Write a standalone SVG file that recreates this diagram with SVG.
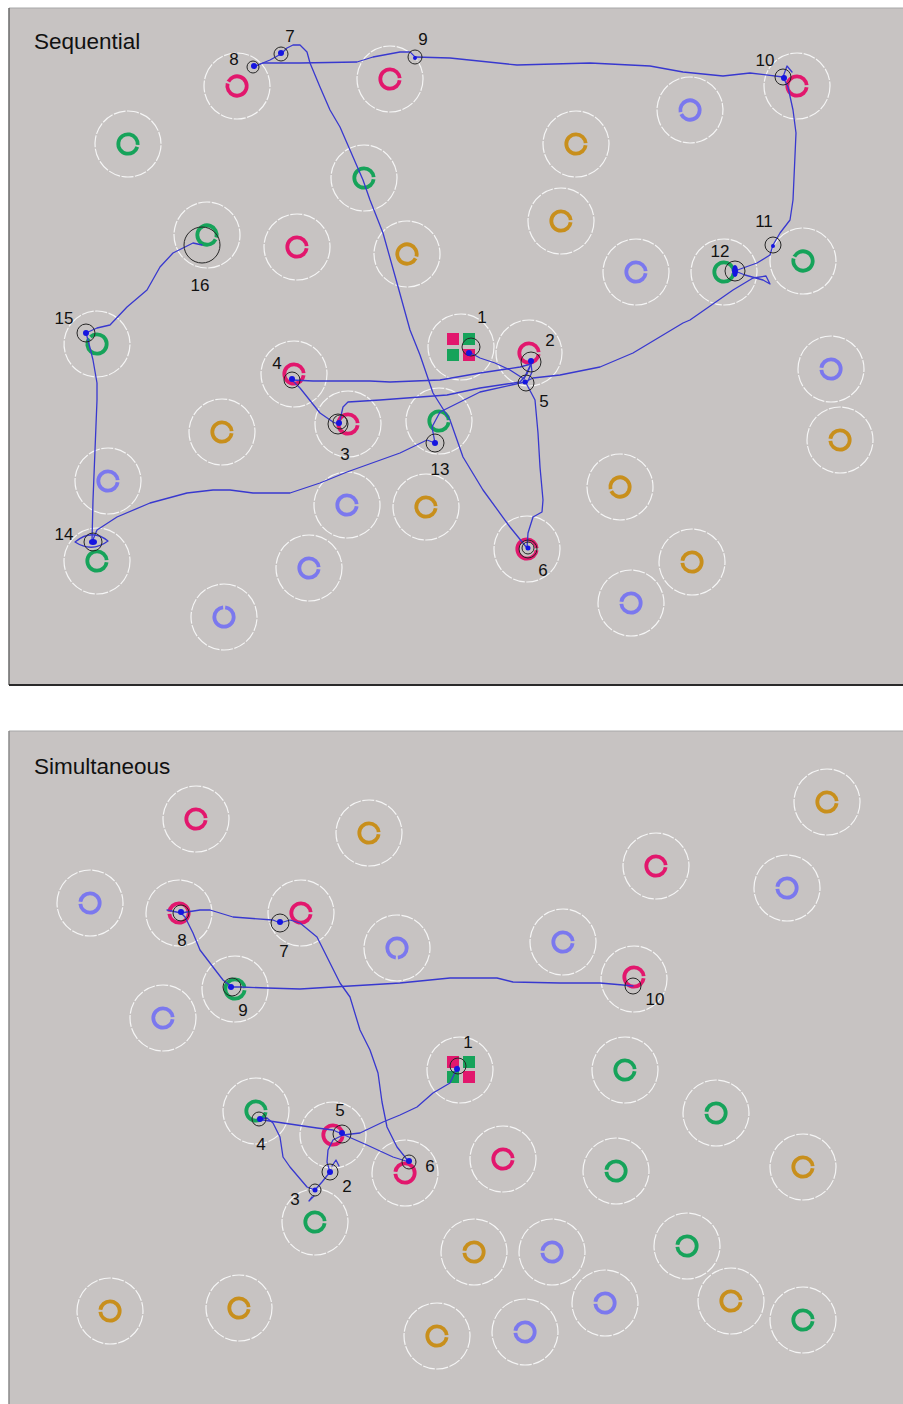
<svg xmlns="http://www.w3.org/2000/svg" width="903" height="1404" viewBox="0 0 903 1404">
<style>
.bg{fill:#c7c3c2}
.w{fill:none;stroke:#f5f5f5;stroke-width:1.2;stroke-dasharray:12 1.5}
.r{fill:none;stroke-width:3.8;stroke-dasharray:58.4 2.5;stroke-dashoffset:59.65}
.pk{stroke:#e2176d}.gr{stroke:#16a35a}.or{stroke:#c88f1c}.bl{stroke:#7b78ee}
.sp{fill:#e2176d}.sg{fill:#16a35a}
.p{fill:none;stroke:#3838cf;stroke-width:1.3;stroke-linejoin:round;stroke-linecap:round}
.k{fill:none;stroke:#262626;stroke-width:1}
.b{fill:#1515e0}
text{font-family:"Liberation Sans",Arial,sans-serif;fill:#111}
.t{font-size:22.5px}
.n{font-size:17px;text-anchor:middle}
</style>
<rect x="0" y="0" width="903" height="1404" fill="#ffffff"/>
<!-- panels -->
<rect class="bg" x="9" y="8" width="900" height="677"/>
<line x1="9" y1="8" x2="903" y2="8" stroke="#a8a8a8" stroke-width="1"/>
<line x1="9" y1="8" x2="9" y2="685" stroke="#6a6a6a" stroke-width="1.5"/>
<line x1="9" y1="685" x2="903" y2="685" stroke="#2a2a2a" stroke-width="2"/>
<rect class="bg" x="9" y="731" width="900" height="680"/>
<line x1="9" y1="731" x2="903" y2="731" stroke="#a8a8a8" stroke-width="1"/>
<line x1="9" y1="731" x2="9" y2="1404" stroke="#8a8a8a" stroke-width="1.5"/>
<text class="t" x="34" y="49">Sequential</text>
<text class="t" x="34" y="774">Simultaneous</text>

<!-- top targets -->
<g id="top-targets">
<g id="tt1" transform="translate(237,86) rotate(200)"><circle class="w" r="33"/><circle class="r pk" r="9.7"/></g>
<g id="tt2" transform="translate(390,79)"><circle class="w" r="33"/><circle class="r pk" r="9.7"/></g>
<g id="tt3" transform="translate(128,144) rotate(10)"><circle class="w" r="33"/><circle class="r gr" r="9.7"/></g>
<g id="tt4" transform="translate(364,178)"><circle class="w" r="33"/><circle class="r gr" r="9.7"/></g>
<g id="tt5" transform="translate(207,235) rotate(20)"><circle class="w" r="33"/><circle class="r gr" r="9.7"/></g>
<g id="tt6" transform="translate(297,247)"><circle class="w" r="33"/><circle class="r pk" r="9.7"/></g>
<g id="tt7" transform="translate(407,254) rotate(20)"><circle class="w" r="33"/><circle class="r or" r="9.7"/></g>
<g id="tt8" transform="translate(97,344) rotate(220)"><circle class="w" r="33"/><circle class="r gr" r="9.7"/></g>
<g id="tt9" transform="translate(797,86)"><circle class="w" r="33"/><circle class="r pk" r="9.7"/></g>
<g id="tt10" transform="translate(690,110) rotate(160)"><circle class="w" r="33"/><circle class="r bl" r="9.7"/></g>
<g id="tt11" transform="translate(576,144)"><circle class="w" r="33"/><circle class="r or" r="9.7"/></g>
<g id="tt12" transform="translate(561,221)"><circle class="w" r="33"/><circle class="r or" r="9.7"/></g>
<g id="tt13" transform="translate(636,272)"><circle class="w" r="33"/><circle class="r bl" r="9.7"/></g>
<g id="tt14" transform="translate(724,272)"><circle class="w" r="33"/><circle class="r gr" r="9.7"/></g>
<g id="tt15" transform="translate(803,261) rotate(200)"><circle class="w" r="33"/><circle class="r gr" r="9.7"/></g>
<g id="tt16" transform="translate(529,353)"><circle class="w" r="33"/><circle class="r pk" r="9.7"/></g>
<g id="tt17" transform="translate(831,369) rotate(180)"><circle class="w" r="33"/><circle class="r bl" r="9.7"/></g>
<g id="tt18" transform="translate(840,440) rotate(180)"><circle class="w" r="33"/><circle class="r or" r="9.7"/></g>
<g id="tt19" transform="translate(620,487) rotate(160)"><circle class="w" r="33"/><circle class="r or" r="9.7"/></g>
<g id="tt20" transform="translate(527,549)"><circle class="w" r="33"/><circle class="r pk" r="9.7"/></g>
<g id="tt21" transform="translate(692,562) rotate(180)"><circle class="w" r="33"/><circle class="r or" r="9.7"/></g>
<g id="tt22" transform="translate(631,603) rotate(180)"><circle class="w" r="33"/><circle class="r bl" r="9.7"/></g>
<g id="tt23" transform="translate(294,374)"><circle class="w" r="33"/><circle class="r pk" r="9.7"/></g>
<g id="tt24" transform="translate(348,424)"><circle class="w" r="33"/><circle class="r pk" r="9.7"/></g>
<g id="tt25" transform="translate(439,421)"><circle class="w" r="33"/><circle class="r gr" r="9.7"/></g>
<g id="tt26" transform="translate(222,432)"><circle class="w" r="33"/><circle class="r or" r="9.7"/></g>
<g id="tt27" transform="translate(108,481)"><circle class="w" r="33"/><circle class="r bl" r="9.7"/></g>
<g id="tt28" transform="translate(347,505)"><circle class="w" r="33"/><circle class="r bl" r="9.7"/></g>
<g id="tt29" transform="translate(426,507)"><circle class="w" r="33"/><circle class="r or" r="9.7"/></g>
<g id="tt30" transform="translate(97,561)"><circle class="w" r="33"/><circle class="r gr" r="9.7"/></g>
<g id="tt31" transform="translate(309,568)"><circle class="w" r="33"/><circle class="r bl" r="9.7"/></g>
<g id="tt32" transform="translate(224,617) rotate(-90)"><circle class="w" r="33"/><circle class="r bl" r="9.7"/></g>
<g id="top-start"><circle class="w" cx="461" cy="347" r="33"/>
<rect class="sp" x="447" y="333" width="12" height="12"/><rect class="sg" x="463" y="333" width="12" height="12"/>
<rect class="sg" x="447" y="349" width="12" height="12"/><rect class="sp" x="463" y="349" width="12" height="12"/></g>
</g>

<!-- bottom targets -->
<g id="bottom-targets">
<g id="bt1" transform="translate(196,819)"><circle class="w" r="33"/><circle class="r pk" r="9.7"/></g>
<g id="bt2" transform="translate(369,833)"><circle class="w" r="33"/><circle class="r or" r="9.7"/></g>
<g id="bt3" transform="translate(90,903) rotate(180)"><circle class="w" r="33"/><circle class="r bl" r="9.7"/></g>
<g id="bt4" transform="translate(179,913) rotate(180)"><circle class="w" r="33"/><circle class="r pk" r="9.7"/></g>
<g id="bt5" transform="translate(301,913)"><circle class="w" r="33"/><circle class="r pk" r="9.7"/></g>
<g id="bt6" transform="translate(397,948) rotate(90)"><circle class="w" r="33"/><circle class="r bl" r="9.7"/></g>
<g id="bt7" transform="translate(235,989)"><circle class="w" r="33"/><circle class="r gr" r="9.7"/></g>
<g id="bt8" transform="translate(163,1018)"><circle class="w" r="33"/><circle class="r bl" r="9.7"/></g>
<g id="bt9" transform="translate(827,802)"><circle class="w" r="33"/><circle class="r or" r="9.7"/></g>
<g id="bt10" transform="translate(656,866)"><circle class="w" r="33"/><circle class="r pk" r="9.7"/></g>
<g id="bt11" transform="translate(787,888) rotate(180)"><circle class="w" r="33"/><circle class="r bl" r="9.7"/></g>
<g id="bt12" transform="translate(563,942)"><circle class="w" r="33"/><circle class="r bl" r="9.7"/></g>
<g id="bt13" transform="translate(634,979)"><circle class="w" r="33"/><circle class="r pk" r="9.7" cy="-2"/></g>
<g id="bt14" transform="translate(256,1111)"><circle class="w" r="33"/><circle class="r gr" r="9.7"/></g>
<g id="bt15" transform="translate(333,1135)"><circle class="w" r="33"/><circle class="r pk" r="9.7"/></g>
<g id="bt16" transform="translate(405,1173) rotate(180)"><circle class="w" r="33"/><circle class="r pk" r="9.7"/></g>
<g id="bt17" transform="translate(315,1222)"><circle class="w" r="33"/><circle class="r gr" r="9.7"/></g>
<g id="bt18" transform="translate(110,1311) rotate(180)"><circle class="w" r="33"/><circle class="r or" r="9.7"/></g>
<g id="bt19" transform="translate(239,1308)"><circle class="w" r="33"/><circle class="r or" r="9.7"/></g>
<g id="bt20" transform="translate(437,1336)"><circle class="w" r="33"/><circle class="r or" r="9.7"/></g>
<g id="bt21" transform="translate(625,1070)"><circle class="w" r="33"/><circle class="r gr" r="9.7"/></g>
<g id="bt22" transform="translate(716,1113) rotate(180)"><circle class="w" r="33"/><circle class="r gr" r="9.7"/></g>
<g id="bt23" transform="translate(503,1159)"><circle class="w" r="33"/><circle class="r pk" r="9.7"/></g>
<g id="bt24" transform="translate(616,1171) rotate(180)"><circle class="w" r="33"/><circle class="r gr" r="9.7"/></g>
<g id="bt25" transform="translate(803,1167)"><circle class="w" r="33"/><circle class="r or" r="9.7"/></g>
<g id="bt26" transform="translate(474,1252) rotate(180)"><circle class="w" r="33"/><circle class="r or" r="9.7"/></g>
<g id="bt27" transform="translate(552,1252) rotate(180)"><circle class="w" r="33"/><circle class="r bl" r="9.7"/></g>
<g id="bt28" transform="translate(687,1246) rotate(180)"><circle class="w" r="33"/><circle class="r gr" r="9.7"/></g>
<g id="bt29" transform="translate(605,1303) rotate(180)"><circle class="w" r="33"/><circle class="r bl" r="9.7"/></g>
<g id="bt30" transform="translate(731,1301)"><circle class="w" r="33"/><circle class="r or" r="9.7"/></g>
<g id="bt31" transform="translate(803,1320)"><circle class="w" r="33"/><circle class="r gr" r="9.7"/></g>
<g id="bt32" transform="translate(525,1332) rotate(180)"><circle class="w" r="33"/><circle class="r bl" r="9.7"/></g>
<g id="bottom-start"><circle class="w" cx="460" cy="1070" r="33"/>
<rect class="sp" x="447" y="1056" width="12" height="12"/><rect class="sg" x="463" y="1056" width="12" height="12"/>
<rect class="sg" x="447" y="1071" width="12" height="12"/><rect class="sp" x="463" y="1071" width="12" height="12"/></g>
</g>

<!-- connectors: trajectories -->
<g id="connectors">
<g id="top-path">
<path class="p" d="M469,352 L480,358 L495,363 L510,370 L524,379 L527,372 L531,364"/>
<path class="p" d="M531,364 L527,374 L520,382 L480,388 L447,395 L380,400 L348,402 L343,407 L340,420"/>
<path class="p" d="M338,424 L333,422 L320,413 L300,388 L292,380"/>
<path class="p" d="M292,380 L313,381 L370,381 L390,382 L440,380 L480,373 L520,367 L531,364 L532,372 L527,383"/>
<path class="p" d="M526,383 L535,400 L538,433 L540,467 L543,500 L542,512 L533,517 L528,533 L527,548"/>
<path class="p" d="M527,548 L510,527 L483,490 L463,457 L450,420 L433,393 L420,355 L410,330 L397,283 L383,233 L370,200 L363,180 L350,150 L340,127 L330,110 L320,87 L310,63 L307,52 L300,45 L293,45 L287,48 L281,54"/>
<path class="p" d="M281,54 L270,60 L253,67"/>
<path class="p" d="M253,67 L263,63 L300,63 L357,62 L373,57 L400,52 L410,52 L415,57"/>
<path class="p" d="M415,57 L450,58 L517,65 L590,63 L650,66 L683,72 L723,76 L750,73 L783,77"/>
<path class="p" d="M783,77 L788,87 L793,110 L796,133 L793,200 L790,220 L780,233 L773,245"/>
<path class="p" d="M773,245 L770,255 L757,263 L743,268 L735,271"/>
<path class="p" d="M735,271 L745,275 L763,280 L770,284 L766,276 L753,278 L733,290 L690,320 L683,323 L633,353 L600,367 L560,375 L533,378 L525,382 L480,392 L440,412 L432,427 L435,443"/>
<path class="p" d="M435,443 L427,440 L400,453 L347,472 L320,483 L290,493 L253,493 L230,490 L213,490 L187,493 L150,503 L117,517 L97,530 L92,542"/>
<path class="p" d="M92,542 L93,500 L95,450 L97,400 L97,383 L93,360 L88,340 L86,333"/>
<path class="p" d="M86,333 L97,328 L110,325 L127,307 L147,290 L160,267 L173,253 L193,243 L202,245"/>
<path class="p" d="M75,542 Q92,528 108,541 Q92,553 75,542Z"/>
<path class="p" d="M783,77 L787,66 L792,72"/>
</g>
<g id="bottom-path">
<path class="p" d="M458,1066 L450,1083 L433,1093 L417,1107 L400,1115 L383,1122 L360,1133 L343,1135 L333,1140 L328,1150 L327,1162 L330,1172"/>
<path class="p" d="M330,1172 L322,1182 L315,1190"/>
<path class="p" d="M315,1190 L307,1187 L290,1167 L283,1157 L280,1137 L273,1123 L267,1118 L259,1119"/>
<path class="p" d="M259,1119 L263,1120 L283,1123 L317,1128 L333,1130 L342,1134"/>
<path class="p" d="M342,1134 L367,1145 L393,1157 L409,1162"/>
<path class="p" d="M409,1162 L397,1147 L387,1127 L382,1102 L378,1073 L370,1050 L360,1030 L350,997 L340,983 L330,963 L317,937 L300,923 L290,920 L280,923"/>
<path class="p" d="M280,923 L273,920 L233,917 L210,910 L200,910 L187,912 L181,913 L167,910"/>
<path class="p" d="M181,913 L185,917 L193,933 L200,950 L213,967 L223,980 L232,987"/>
<path class="p" d="M232,987 L240,987 L267,988 L300,989 L333,987 L367,985 L400,983 L450,978 L497,978 L513,982 L560,983 L600,983 L623,985 L633,986"/>
<path class="p" d="M332,1166 L336,1160 L339,1166"/>
<path class="p" d="M312,1197 L309,1201 L314,1196"/>
</g>
</g>

<!-- stops: top -->
<g id="top-stops">
<g id="ts1"><circle class="k" cx="471" cy="347" r="9"/><circle class="b" cx="469" cy="353" r="3"/><text class="n" x="482" y="323">1</text></g>
<g id="ts2"><circle class="k" cx="531" cy="362" r="10"/><circle class="b" cx="531" cy="361" r="3"/><text class="n" x="550" y="346">2</text></g>
<g id="ts3"><circle class="k" cx="338" cy="424" r="10"/><circle class="k" cx="340" cy="422" r="7"/><circle class="b" cx="339" cy="423" r="3"/><text class="n" x="345" y="460">3</text></g>
<g id="ts4"><circle class="k" cx="292" cy="380" r="8"/><circle class="b" cx="292" cy="379" r="3"/><text class="n" x="277" y="369">4</text></g>
<g id="ts5"><circle class="k" cx="526" cy="383" r="8"/><circle class="b" cx="525" cy="382" r="2.5"/><text class="n" x="544" y="407">5</text></g>
<g id="ts6"><circle class="k" cx="528" cy="549" r="9"/><circle class="k" cx="528" cy="548" r="6"/><circle class="b" cx="528" cy="548" r="2.5"/><text class="n" x="543" y="576">6</text></g>
<g id="ts7"><circle class="k" cx="281" cy="54" r="7"/><circle class="b" cx="281" cy="53" r="3"/><text class="n" x="290" y="42">7</text></g>
<g id="ts8"><circle class="k" cx="253" cy="67" r="6"/><circle class="b" cx="254" cy="66" r="3"/><text class="n" x="234" y="65">8</text></g>
<g id="ts9"><circle class="k" cx="415" cy="57" r="7"/><circle class="b" cx="415" cy="58" r="2"/><text class="n" x="423" y="45">9</text></g>
<g id="ts10"><circle class="k" cx="783" cy="77" r="8"/><circle class="b" cx="784" cy="78" r="3"/><text class="n" x="765" y="66">10</text></g>
<g id="ts11"><circle class="k" cx="773" cy="245" r="8"/><circle class="b" cx="773" cy="246" r="2"/><text class="n" x="764" y="227">11</text></g>
<g id="ts12"><circle class="k" cx="735" cy="271" r="10"/><ellipse class="b" cx="735" cy="271" rx="3" ry="6"/><text class="n" x="720" y="257">12</text></g>
<g id="ts13"><circle class="k" cx="435" cy="443" r="9"/><circle class="b" cx="435" cy="443" r="3"/><text class="n" x="440" y="475">13</text></g>
<g id="ts14"><circle class="k" cx="93" cy="542" r="9"/><ellipse class="b" cx="93" cy="542" rx="4" ry="3"/><text class="n" x="64" y="540">14</text></g>
<g id="ts15"><circle class="k" cx="86" cy="333" r="9"/><circle class="b" cx="86" cy="333" r="3"/><text class="n" x="64" y="324">15</text></g>
<g id="ts16"><circle class="k" cx="202" cy="245" r="18"/><text class="n" x="200" y="291">16</text></g>
</g>

<!-- stops: bottom -->
<g id="bottom-stops">
<g id="bs1"><circle class="k" cx="458" cy="1066" r="8"/><circle class="b" cx="457" cy="1069" r="3"/><text class="n" x="468" y="1048">1</text></g>
<g id="bs2"><circle class="k" cx="330" cy="1172" r="8"/><circle class="b" cx="330" cy="1172" r="3"/><text class="n" x="347" y="1192">2</text></g>
<g id="bs3"><circle class="k" cx="315" cy="1190" r="6"/><circle class="b" cx="315" cy="1190" r="2.5"/><text class="n" x="295" y="1205">3</text></g>
<g id="bs4"><circle class="k" cx="259" cy="1119" r="7"/><circle class="b" cx="260" cy="1119" r="3"/><text class="n" x="261" y="1150">4</text></g>
<g id="bs5"><circle class="k" cx="342" cy="1134" r="9"/><circle class="b" cx="342" cy="1133" r="3"/><text class="n" x="340" y="1116">5</text></g>
<g id="bs6"><circle class="k" cx="409" cy="1162" r="7"/><circle class="b" cx="409" cy="1161" r="3"/><text class="n" x="430" y="1172">6</text></g>
<g id="bs7"><circle class="k" cx="280" cy="923" r="9"/><circle class="b" cx="280" cy="922" r="3"/><text class="n" x="284" y="957">7</text></g>
<g id="bs8"><circle class="k" cx="181" cy="913" r="8"/><circle class="b" cx="181" cy="912" r="3"/><text class="n" x="182" y="946">8</text></g>
<g id="bs9"><circle class="k" cx="232" cy="987" r="9"/><circle class="b" cx="231" cy="987" r="3"/><text class="n" x="243" y="1016">9</text></g>
<g id="bs10"><circle class="k" cx="633" cy="986" r="8"/><text class="n" x="655" y="1005">10</text></g>
</g>
</svg>
